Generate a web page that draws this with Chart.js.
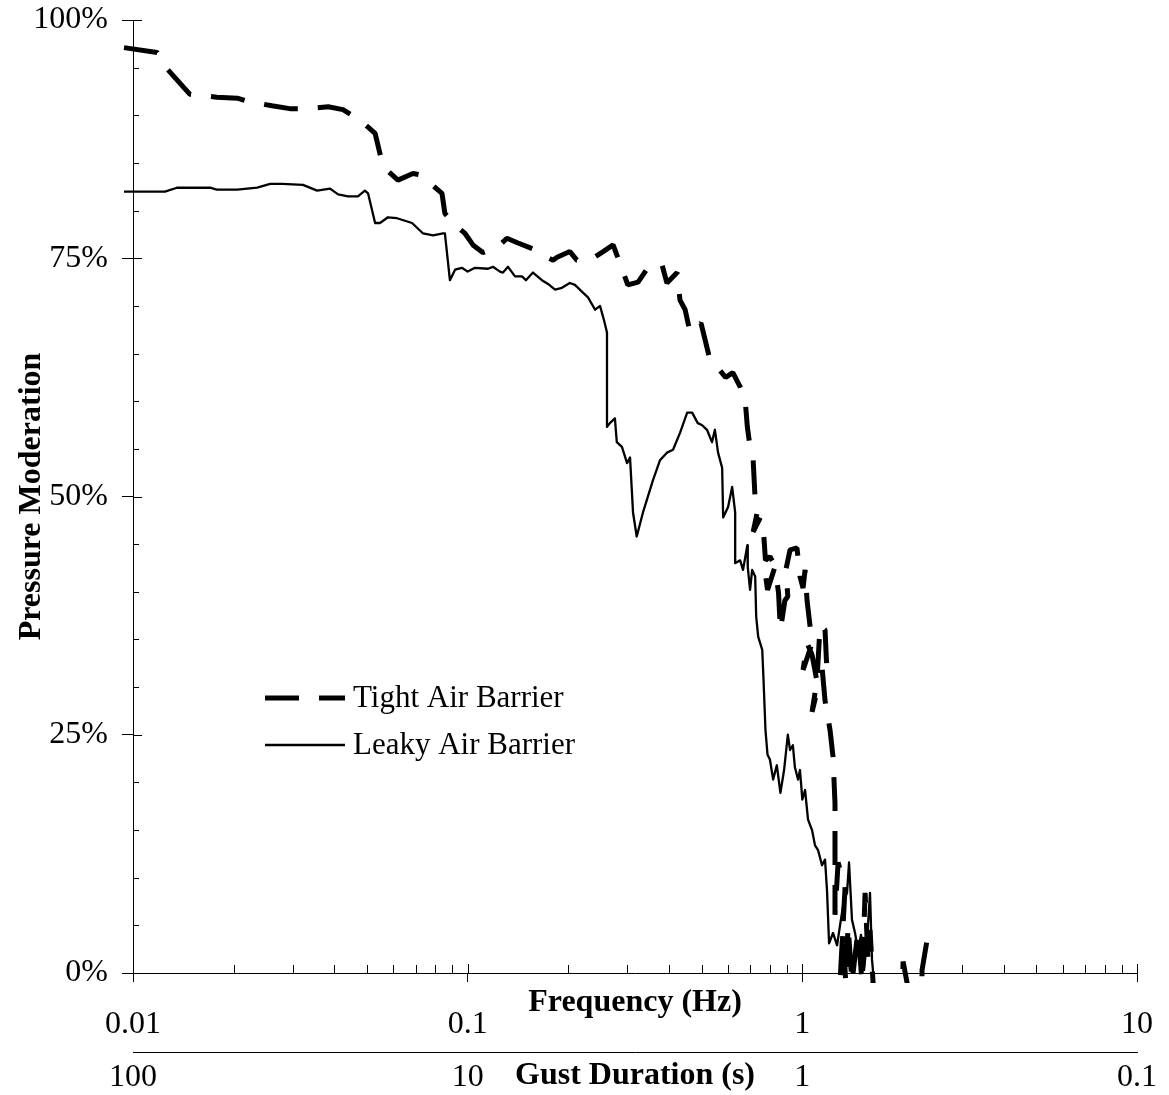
<!DOCTYPE html>
<html>
<head>
<meta charset="utf-8">
<title>Pressure Moderation</title>
<script src="https://cdn.jsdelivr.net/npm/chart.js@4.4.0/dist/chart.umd.min.js"></script>
<style>
  html, body { margin: 0; padding: 0; background: #fff; }
  #wrap { width: 1169px; height: 1095px; }
</style>
</head>
<body>
<div id="wrap"><canvas id="moderationChart" width="1169" height="1095"></canvas></div>
<script>
const freqTicks = [0.01, 0.1, 1, 10];
const durationTicks = [100, 10, 1, 0.1];
const pctTicks = [0, 25, 50, 75, 100];

// tight air barrier (dashed)
const tightFreq = [
  0.0094, 0.0118, 0.0127, 0.0148, 0.0178, 0.0205, 0.0224, 0.026, 0.0294, 0.0331,
  0.0383, 0.0424, 0.0477, 0.0529, 0.0559, 0.0619, 0.0686, 0.0736, 0.0772, 0.0838,
  0.0855, 0.0904, 0.0982, 0.1037, 0.111, 0.1223, 0.131, 0.1414, 0.159, 0.168,
  0.18, 0.185, 0.202, 0.212, 0.232, 0.254, 0.272, 0.285, 0.301, 0.323,
  0.35, 0.381, 0.394, 0.4225, 0.431, 0.4465, 0.462, 0.498, 0.53, 0.556,
  0.59, 0.62, 0.652, 0.676, 0.685, 0.698, 0.713, 0.723, 0.733, 0.713,
  0.749, 0.765, 0.776, 0.80, 0.818, 0.776, 0.787, 0.828, 0.849, 0.86,
  0.887, 0.905, 0.893, 0.919, 0.964, 0.984, 1.005, 1.019, 1.033, 1.069,
  1.005, 1.033, 1.069, 1.114, 1.069, 1.106, 1.13, 1.169, 1.185, 1.145,
  1.169, 1.21, 1.235, 1.252, 1.252, 1.279, 1.342, 1.296, 1.323, 1.348,
  1.37, 1.407, 1.467, 1.508, 1.54, 1.571, 1.593, 1.627, 1.71, 1.92,
  2.0, 2.055, 2.127, 2.218, 2.279, 2.36
];
const tightPct = [
  97.1, 96.6, 94.8, 92.2, 91.9, 91.8, 91.4, 91.0, 90.7, 90.7,
  90.9, 90.6, 89.5, 88.1, 84.6, 83.2, 83.9, 83.7, 82.9, 81.8,
  79.7, 78.7, 77.6, 76.4, 75.6, 76.1, 77.1, 76.6, 75.9, 75.3,
  74.8, 75.1, 75.7, 74.8, 74.8, 75.7, 76.4, 74.5, 72.2, 72.5,
  74.3, 74.3, 72.4, 73.5, 70.6, 69.6, 67.2, 68.2, 64.3, 63.6,
  62.5, 63.0, 61.5, 59.8, 57.3, 55.2, 53.8, 49.6, 48.3, 46.3,
  47.8, 46.5, 43.3, 43.7, 43.1, 41.8, 40.2, 42.6, 39.9, 36.0,
  39.1, 39.5, 42.3, 44.4, 44.6, 41.6, 40.4, 42.3, 39.1, 34.6,
  31.8, 34.6, 33.4, 30.0, 27.4, 30.7, 36.5, 36.0, 31.5, 32.1,
  28.6, 25.5, 22.7, 17.8, 6.1, 11.6, 9.0, -1.0, 4.5, -1.0,
  5.0, -1.0, 4.5, -1.0, 8.4, 1.4, 4.5, -1.0, -30, -30,
  1.2, -1.0, -30, -30, 0.3, 3.5
];

// leaky air barrier (solid)
const leakyFreq = [
  0.0094, 0.01246, 0.01353, 0.017, 0.0178, 0.0205, 0.0235, 0.0257, 0.0279, 0.0322,
  0.0355, 0.0388, 0.041, 0.0439, 0.047, 0.0493, 0.0504, 0.0529, 0.0547, 0.0578,
  0.0615, 0.0682, 0.0736, 0.0788, 0.0844, 0.0855, 0.0885, 0.0917, 0.0961, 0.1,
  0.1052, 0.115, 0.119, 0.1249, 0.1275, 0.132, 0.1385, 0.1453, 0.1493, 0.1567,
  0.1667, 0.1738, 0.1824, 0.1913, 0.202, 0.2092, 0.221, 0.2289, 0.2403, 0.2486,
  0.2555, 0.2608, 0.2608, 0.266, 0.2754, 0.279, 0.289, 0.2994, 0.3056, 0.312,
  0.32, 0.3339, 0.3577, 0.3754, 0.394, 0.4108, 0.4313, 0.4528, 0.4686, 0.487,
  0.501, 0.519, 0.537, 0.548, 0.56, 0.576, 0.58, 0.60, 0.617, 0.63,
  0.63, 0.652, 0.665, 0.685, 0.687, 0.698, 0.708, 0.723, 0.728, 0.738,
  0.759, 0.765, 0.776, 0.787, 0.80, 0.818, 0.839, 0.86, 0.882, 0.905,
  0.919, 0.937, 0.95, 0.971, 0.984, 1.0, 1.019, 1.04, 1.069, 1.091,
  1.114, 1.145, 1.169, 1.185, 1.202, 1.235, 1.27, 1.296, 1.332, 1.36,
  1.379, 1.407, 1.437, 1.467, 1.497, 1.529, 1.561, 1.593, 1.615, 1.638
];
const leakyPct = [
  82.0, 82.0, 82.4, 82.4, 82.2, 82.2, 82.4, 82.8, 82.8, 82.7,
  82.1, 82.3, 81.7, 81.5, 81.5, 82.1, 81.8, 78.7, 78.7, 79.3,
  79.2, 78.7, 77.6, 77.4, 77.6, 77.6, 72.7, 73.8, 74.0, 73.6,
  74.0, 73.9, 74.1, 73.6, 73.5, 74.1, 73.1, 73.1, 72.7, 73.5,
  72.7, 72.3, 71.7, 71.9, 72.4, 72.2, 71.4, 70.9, 69.6, 70.0,
  68.5, 67.2, 57.3, 57.7, 58.2, 55.7, 55.2, 53.5, 54.1, 48.3,
  45.8, 48.3, 51.7, 53.8, 54.6, 54.9, 56.7, 58.8, 58.8, 57.7,
  57.5, 57.0, 55.7, 57.0, 54.6, 53.0, 47.8, 48.9, 51.0, 48.3,
  43.0, 43.3, 42.3, 44.9, 42.6, 40.2, 42.3, 41.6, 37.4, 35.3,
  33.9, 31.1, 25.5, 22.9, 22.4, 20.3, 21.8, 18.9, 21.3, 25.0,
  23.4, 23.9, 21.6, 20.3, 21.3, 18.2, 19.2, 16.1, 15.0, 13.4,
  12.9, 11.3, 11.9, 8.7, 3.1, 4.2, 2.9, 5.0, 7.7, 8.4,
  11.6, 5.6, 4.2, 2.4, 4.0, 0.3, 3.5, 8.4, 1.4, -1.0
];

const serif = "'Liberation Serif', 'Times New Roman', serif";

Chart.defaults.color = "#000";
Chart.defaults.font.family = serif;

function toPoints(xs, ys) {
  return xs.map((x, i) => ({ x: x, y: ys[i] }));
}

// keep the plot box fixed: labels may hang over the edges like in Excel
function noEdgePadding(scale) {
  scale.paddingLeft = 0;
  scale.paddingRight = 0;
  scale.paddingTop = 0;
  scale.paddingBottom = 0;
}

// Excel-style ticks: majors cross the axis, minors sit inside, plus the legend
const innerTicks = {
  id: "innerTicks",
  afterDraw(chart) {
    const ctx = chart.ctx;
    const area = chart.chartArea;
    const xs = chart.scales.x;
    const ys = chart.scales.y;
    ctx.save();
    ctx.strokeStyle = "#000";
    ctx.lineWidth = 1;
    ctx.beginPath();
    freqTicks.forEach((d, i) => {
      const px = Math.round(xs.getPixelForValue(d)) + 0.5;
      ctx.moveTo(px, area.bottom);
      ctx.lineTo(px, area.bottom - 9);
      if (i === freqTicks.length - 1) return;
      for (let k = 2; k < 10; k++) {
        const mx = Math.round(xs.getPixelForValue(d * k)) + 0.5;
        ctx.moveTo(mx, area.bottom);
        ctx.lineTo(mx, area.bottom - 8);
      }
    });
    for (let v = 0; v <= 100; v += 5) {
      const py = Math.round(ys.getPixelForValue(v)) + 0.5;
      const len = v % 25 === 0 ? 9 : 6;
      ctx.moveTo(area.left, py);
      ctx.lineTo(area.left + len, py);
    }
    ctx.stroke();

    // legend
    const lx = area.left + 132;
    const rows = [698, 745];
    ctx.font = "31px " + serif;
    ctx.fillStyle = "#000";
    ctx.textBaseline = "middle";
    ctx.textAlign = "left";
    chart.data.datasets.forEach((ds, i) => {
      const y = rows[i];
      ctx.beginPath();
      ctx.setLineDash(ds.borderDash || []);
      ctx.lineWidth = ds.borderWidth;
      ctx.moveTo(lx, y);
      ctx.lineTo(lx + 80, y);
      ctx.stroke();
      ctx.setLineDash([]);
      ctx.fillText(ds.label, lx + 88, y + 1);
    });
    ctx.restore();
  }
};

const ctx = document.getElementById("moderationChart");
window.moderationChart = new Chart(ctx, {
  type: "line",
  data: {
    datasets: [
      {
        label: "Tight Air Barrier",
        data: toPoints(tightFreq, tightPct),
        borderColor: "#000",
        borderWidth: 5,
        borderDash: [34, 20],
        borderJoinStyle: "bevel",
        pointRadius: 0,
        tension: 0,
        fill: false,
        clip: { left: 12, top: 5, right: 0, bottom: 10 },
      },
      {
        label: "Leaky Air Barrier",
        data: toPoints(leakyFreq, leakyPct),
        borderColor: "#000",
        borderWidth: 2.3,
        borderJoinStyle: "round",
        pointRadius: 0,
        tension: 0,
        fill: false,
        clip: { left: 12, top: 5, right: 0, bottom: 10 },
      },
    ],
  },
  options: {
    responsive: false,
    animation: false,
    events: [],
    layout: {
      padding: { left: 0, top: 20, right: 32, bottom: 0 },
    },
    scales: {
      x: {
        type: "logarithmic",
        position: "bottom",
        weight: 0,
        min: 0.01,
        max: 10,
        afterBuildTicks: (scale) => {
          scale.ticks = freqTicks.map((v) => ({ value: v }));
        },
        afterFit: (scale) => {
          scale.height = 79;
          noEdgePadding(scale);
        },
        ticks: {
          autoSkip: false,
          maxRotation: 0,
          padding: 23,
          font: { size: 32 },
          callback: (v) => String(v),
        },
        grid: {
          display: true,
          drawOnChartArea: false,
          drawTicks: true,
          tickLength: 9,
          color: "#000",
        },
        border: { display: true, color: "#000", width: 1 },
        title: {
          display: true,
          text: "Frequency (Hz)",
          font: { size: 32, weight: "bold" },
          padding: { top: 0, bottom: 30 },
        },
      },
      x2: {
        type: "logarithmic",
        position: "bottom",
        weight: 1,
        min: 0.1,
        max: 100,
        reverse: true,
        afterBuildTicks: (scale) => {
          scale.ticks = durationTicks.map((v) => ({ value: v }));
        },
        afterFit: (scale) => {
          scale.height = 43;
          noEdgePadding(scale);
        },
        ticks: {
          autoSkip: false,
          maxRotation: 0,
          padding: 6,
          font: { size: 32 },
          callback: (v) => String(v),
        },
        grid: { display: false, drawTicks: false },
        border: { display: true, color: "#000", width: 1 },
        title: {
          display: true,
          text: "Gust Duration (s)",
          font: { size: 32, weight: "bold" },
          padding: { top: 0, bottom: 0 },
        },
      },
      y: {
        type: "linear",
        position: "left",
        min: 0,
        max: 100,
        afterBuildTicks: (scale) => {
          scale.ticks = pctTicks.map((v) => ({ value: v }));
        },
        afterFit: (scale) => {
          scale.width = 133;
          noEdgePadding(scale);
        },
        ticks: {
          padding: 14,
          font: { size: 32 },
          callback: (v) => v + "%",
        },
        grid: {
          display: true,
          drawOnChartArea: false,
          drawTicks: true,
          tickLength: 11,
          color: "#000",
        },
        border: { display: true, color: "#000", width: 1 },
        title: {
          display: true,
          text: "Pressure Moderation",
          font: { size: 32, weight: "bold" },
          padding: { top: 13, bottom: 0 },
        },
      },
    },
    plugins: {
      legend: { display: false },
      tooltip: { enabled: false },
    },
  },
  plugins: [innerTicks],
});
</script>
</body>
</html>
